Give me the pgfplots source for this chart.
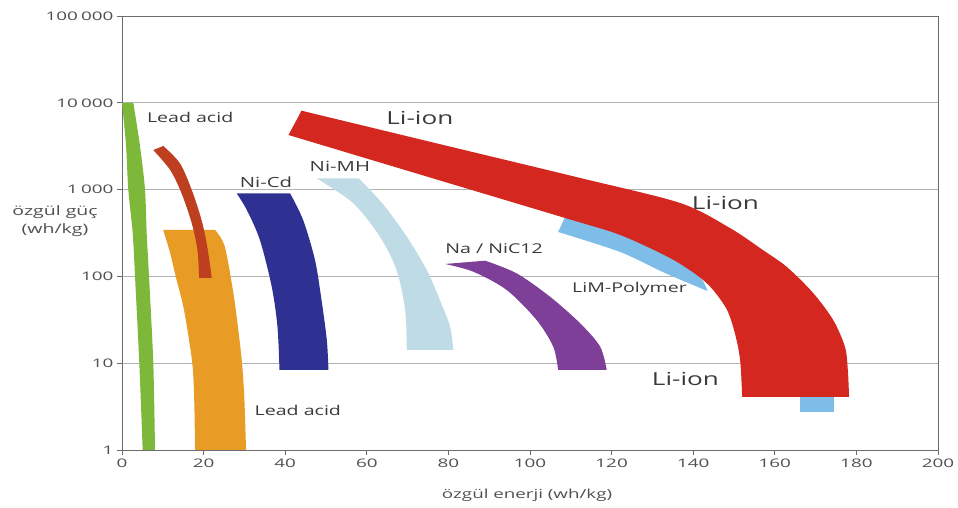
\documentclass[border=0pt]{standalone}
\usepackage{pgfplots}
\pgfplotsset{compat=1.18}
\usepgfplotslibrary{fillbetween}
\usepackage{graphicx}
\usepackage{fontspec}
\setmainfont{Open Sans}
\definecolor{cgreen}{HTML}{7DB83A}
\definecolor{cbrown}{HTML}{BE3E20}
\definecolor{corange}{HTML}{E89B25}
\definecolor{cnavy}{HTML}{2E3192}
\definecolor{cnimh}{HTML}{BFDCE6}
\definecolor{cpurple}{HTML}{7D3F98}
\definecolor{cred}{HTML}{D4271F}
\definecolor{cpoly}{HTML}{7DBDE8}
\definecolor{ctxt}{HTML}{3A3A3A}
\definecolor{ctick}{HTML}{505050}
\newcommand{\sx}[1]{\scalebox{1.45}[1]{#1}}
\newcommand{\tx}[1]{\scalebox{1.6}[1]{#1}}
\begin{document}
\begin{tikzpicture}
\begin{axis}[
  at={(122pt,58pt)}, anchor=south west,
  width=816pt, height=434pt, scale only axis,
  xmin=0, xmax=200, ymin=1, ymax=100000, ymode=log,
  xtick={0,20,...,200},
  xticklabels={\tx{0},\tx{20},\tx{40},\tx{60},\tx{80},\tx{100},\tx{120},\tx{140},\tx{160},\tx{180},\tx{200}},
  ytick={1,10,100,1000,10000,100000},
  yticklabels={\tx{1},\tx{10},\tx{100},\tx{1\,000},\tx{10\,000},\tx{100\,000}},
  yminorticks=false,
  ymajorgrids, major grid style={gray!60, line width=0.6pt},
  axis line style={gray!85!black, line width=0.8pt},
  tick style={gray!85!black, line width=0.8pt},
  major tick length=5pt,
  tick align=outside, tick pos=left,
  ticklabel style={font=\fontsize{11.8}{13}\selectfont, text=ctick},
  clip=true,
]
% Lead acid (green)
\addplot[name path=gA, draw=none, smooth] coordinates {(0,10000) (1.0,3180) (1.54,1000) (2.62,316) (3.19,100) (4.24,10) (5.07,1)};
\addplot[name path=gB, draw=none, smooth] coordinates {(2.77,10000) (4.41,3180) (5.64,1000) (6.05,316) (6.62,100) (7.67,10) (8.09,1)};
\addplot[fill=cgreen, draw=none] fill between[of=gA and gB];
% Lead acid (orange)
\addplot[name path=oA, draw=none, smooth] coordinates {(10.1,343) (11.8,186) (13.2,98.4) (15.2,41.0) (17.2,10.3) (17.7,3.77) (17.9,1)};
\addplot[name path=oB, draw=none, smooth] coordinates {(22.8,343) (25.2,220) (27.3,63.9) (28.2,31.5) (29.4,10.3) (30.0,3.77) (30.4,1)};
\addplot[fill=corange, draw=none] fill between[of=oA and oB];
% Lead acid (brown)
\addplot[name path=bA, draw=none, smooth] coordinates {(10.12,3180) (14.2,2010) (17.1,989) (19.5,446) (20.9,220) (22.0,96)};
\addplot[name path=bB, draw=none, smooth] coordinates {(7.67,2858) (11.8,1683) (14.6,906) (17.1,409) (18.5,201) (18.9,96)};
\addplot[fill=cbrown, draw=none] fill between[of=bA and bB];
% Ni-Cd
\addplot[name path=nA, draw=none, smooth] coordinates {(41.2,906) (44.4,446) (47.3,154.5) (48.9,53.5) (50.2,18.5) (50.6,8.35)};
\addplot[name path=nB, draw=none, smooth] coordinates {(28.1,906) (30.6,582) (33.8,262.7) (36.7,76.1) (38.1,26.4) (38.6,8.35)};
\addplot[fill=cnavy, draw=none] fill between[of=nA and nB];
% Ni-MH
\addplot[name path=mA, draw=none, smooth] coordinates {(58.0,1349) (63.8,695) (69.8,287) (74.7,118.5) (77.9,53.5) (80.4,26.4) (81.2,14.2)};
\addplot[name path=mB, draw=none, smooth] coordinates {(47.7,1349) (56.7,695) (63.2,287) (67.3,118.5) (69.4,41.0) (69.8,14.2)};
\addplot[fill=cnimh, draw=none] fill between[of=mA and mB];
% Na / NiCl2
\addplot[name path=pA, draw=none, smooth] coordinates {(89.0,151.7) (96.7,108.6) (104.9,58.4) (112.3,28.8) (117.2,15.5) (118.8,8.35)};
\addplot[name path=pB, draw=none, smooth] coordinates {(79.2,139) (86.1,113.3) (94.3,69.7) (101.6,31.5) (105.7,15.5) (106.9,8.35)};
\addplot[fill=cpurple, draw=none] fill between[of=pA and pB];
% LiM-Polymer
\addplot[name path=lA, draw=none, smooth] coordinates {(108.9,520) (122.1,330) (134.3,180) (141.5,100) (143.5,68)};
\addplot[name path=lB, draw=none, smooth] coordinates {(106.9,325) (122.1,191) (132.6,112) (141.7,73.5) (143.5,68)};
\addplot[fill=cpoly, draw=none] fill between[of=lA and lB];
\addplot[name path=sA, draw=none] coordinates {(166.2,4.08) (174.5,4.08)};
\addplot[name path=sB, draw=none] coordinates {(166.2,2.76) (174.5,2.76)};
\addplot[fill=cpoly, draw=none] fill between[of=sA and sB];
% Li-ion (red)
\addplot[name path=rA, draw=none, smooth] coordinates {(44.0,8110) (77.9,3340) (112.3,1361) (136.8,701) (149.0,361) (157.1,201) (163.0,128) (169.4,64.4) (174.3,31.5) (177.2,15.4) (177.9,8.35) (178.2,4.08)};
\addplot[name path=rB, draw=none, smooth] coordinates {(40.8,4256) (77.2,1304) (108.6,471) (122.1,300) (134.3,163) (141.2,101) (144.9,69.7) (148.3,41.0) (150.2,22.3) (151.5,10.9) (152.0,4.08)};
\addplot[fill=cred, draw=none] fill between[of=rA and rB];
% labels
\node[font=\fontsize{13.5}{15}\selectfont, text=ctxt] at (axis cs:16.7,6860) {\sx{Lead acid}};
\node[font=\fontsize{18}{20}\selectfont, text=ctxt] at (axis cs:73.0,6680) {\sx{Li-ion}};
\node[font=\fontsize{14}{16}\selectfont, text=ctxt] at (axis cs:35.3,1224) {\sx{Ni-Cd}};
\node[font=\fontsize{14}{16}\selectfont, text=ctxt] at (axis cs:53.4,1836) {\sx{Ni-MH}};
\node[font=\fontsize{18}{20}\selectfont, text=ctxt] at (axis cs:147.9,701) {\sx{Li-ion}};
\node[font=\fontsize{13.5}{15}\selectfont, text=ctxt] at (axis cs:91.2,207) {\sx{Na / NiC12}};
\node[font=\fontsize{13.5}{15}\selectfont, text=ctxt] at (axis cs:124.4,71.6) {\sx{LiM-Polymer}};
\node[font=\fontsize{18}{20}\selectfont, text=ctxt] at (axis cs:138.1,6.58) {\sx{Li-ion}};
\node[font=\fontsize{13.5}{15}\selectfont, text=ctxt] at (axis cs:43.1,2.89) {\sx{Lead acid}};
\end{axis}
\node[font=\fontsize{13}{18}\selectfont, text=ctick, align=center] at (55pt,287pt) {\scalebox{1.5}[1]{özgül güç}\\\scalebox{1.5}[1]{(wh/kg)}};
\node[font=\fontsize{12.5}{14}\selectfont, text=ctick] at (527pt,13pt) {\scalebox{1.5}[1]{özgül enerji (wh/kg)}};
\path (0,0) rectangle (958pt,508pt);
\end{tikzpicture}
\end{document}
